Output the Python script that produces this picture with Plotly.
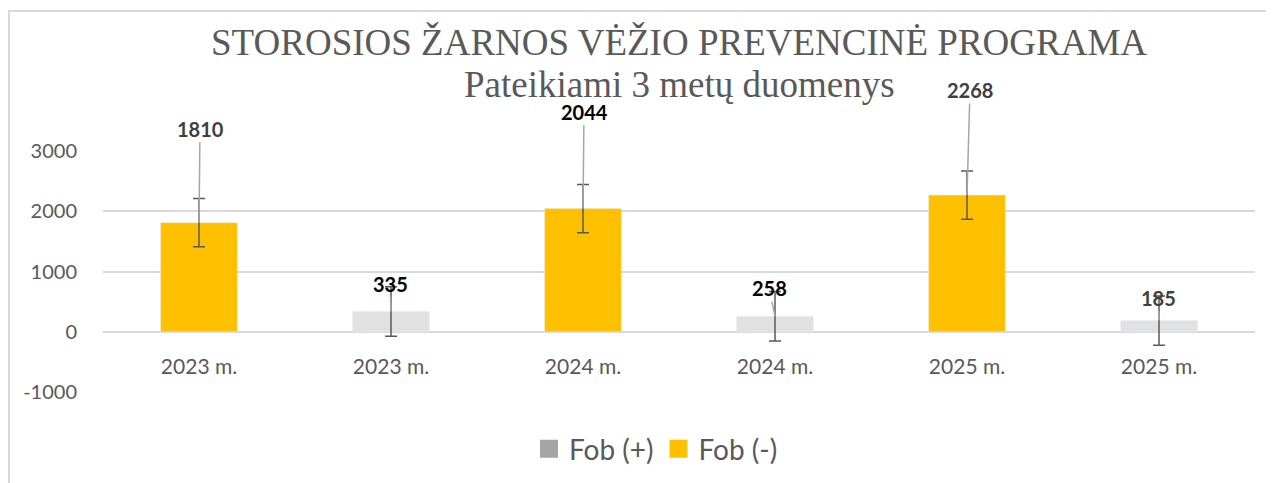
import plotly.graph_objects as go

# ---- data ----
categories = ["2023 m.", "2023 m.", "2024 m.", "2024 m.", "2025 m.", "2025 m."]
fob_pos = [None, 335, None, 258, None, 185]      # Fob (+)
fob_neg = [1810, None, 2044, None, 2268, None]   # Fob (-)
fob_pos_err = [None, 410, None, 410, None, 410]
fob_neg_err = [400, None, 400, None, 400, None]
y_ticks = [-1000, 0, 1000, 2000, 3000]
y_tick_text = ["-1000", "0", "1000", "2000", "3000"]

title_line1 = "STOROSIOS ŽARNOS VĖŽIO PREVENCINĖ PROGRAMA"
title_line2 = "Pateikiami 3 metų duomenys"

# ---- styles ----
ORANGE = "#FFC000"
GRAY_BAR = "#e1e1e1"
GRAY_LEG = "#a5a5a5"
TXT = "#595959"
GRID = "#d9d9d9"
ERR = "#595959"
SANS = "Lato"
SERIF = "Liberation Serif"

# label pixel offsets (dx, dy) from bar top, and label colours
label_offsets = [(1, -94), (-1, -28), (1, -97), (-6, -28), (3, -105), (-1, -23)]
label_colors = ["#404040", "#000000", "#000000", "#000000", "#404040", "#404040"]

xs = list(range(len(categories)))

fig = go.Figure()
fig.add_trace(go.Bar(
    x=xs, y=fob_neg, name="Fob (-)", marker_color=ORANGE, width=0.4,
    showlegend=False,
    error_y=dict(type="data", array=fob_neg_err, visible=True, color=ERR, thickness=1.5, width=6),
))
fig.add_trace(go.Bar(
    x=xs, y=fob_pos, name="Fob (+)", marker_color=GRAY_BAR, width=0.4,
    showlegend=False,
    error_y=dict(type="data", array=fob_pos_err, visible=True, color=ERR, thickness=1.5, width=6),
))
# legend entries
fig.add_trace(go.Scatter(x=[None], y=[None], mode="markers", name="Fob (+)",
                         marker=dict(symbol="square", size=16, color=GRAY_LEG,
                                     line=dict(color=GRAY_LEG, width=2))))
fig.add_trace(go.Scatter(x=[None], y=[None], mode="markers", name="Fob (-)",
                         marker=dict(symbol="square", size=16, color=ORANGE,
                                     line=dict(color=ORANGE, width=2))))

annotations = []
for i in xs:
    v = fob_neg[i] if fob_neg[i] is not None else fob_pos[i]
    dx, dy = label_offsets[i]
    annotations.append(dict(
        x=i, y=v, xref="x", yref="y", text=f"<b>{v}</b>",
        showarrow=True, arrowhead=0, arrowwidth=1.5, arrowcolor="#a6a6a6",
        ax=dx, ay=dy, font=dict(family=SANS, size=20, color=label_colors[i]),
    ))

annotations.append(dict(x=0.5, y=1.452, xref="paper", yref="paper", text=title_line1,
                        showarrow=False, xanchor="center", yanchor="middle",
                        font=dict(family=SERIF, size=37, color=TXT)))
annotations.append(dict(x=0.5, y=1.274, xref="paper", yref="paper", text=title_line2,
                        showarrow=False, xanchor="center", yanchor="middle",
                        font=dict(family=SERIF, size=37, color=TXT)))

# the page adds an 8px body margin, so the figure is 8px smaller than the window
fig.update_layout(
    width=1266, height=475,
    margin=dict(l=95, r=19, t=143, b=91, autoexpand=False),
    paper_bgcolor="white", plot_bgcolor="white",
    barmode="overlay",
    annotations=annotations,
    showlegend=True,
    legend=dict(orientation="h", x=0.48, xanchor="center", y=-0.237, yanchor="middle",
                font=dict(family=SANS, size=28, color=TXT), itemsizing="trace"),
    shapes=[dict(type="rect", xref="paper", yref="paper", x0=-0.0816, x1=1.2,
                 y0=-0.6, y1=1.581, line=dict(color=GRID, width=2), layer="below")],
)
fig.update_xaxes(range=[-0.5, 5.5], tickvals=xs, ticktext=categories, anchor="free",
                 position=0.2531, showgrid=False, showline=False, zeroline=False,
                 ticks="", ticklabelstandoff=21, automargin=False,
                 tickfont=dict(family=SANS, size=21, color=TXT))
fig.update_yaxes(range=[-1000, 3000], tickvals=y_ticks, ticktext=y_tick_text,
                 showgrid=True, gridcolor=GRID, automargin=False,
                 gridwidth=2, zeroline=False, showline=False, ticks="",
                 ticklabelstandoff=25, tickfont=dict(family=SANS, size=20, color=TXT))

fig.write_html("out.html")
